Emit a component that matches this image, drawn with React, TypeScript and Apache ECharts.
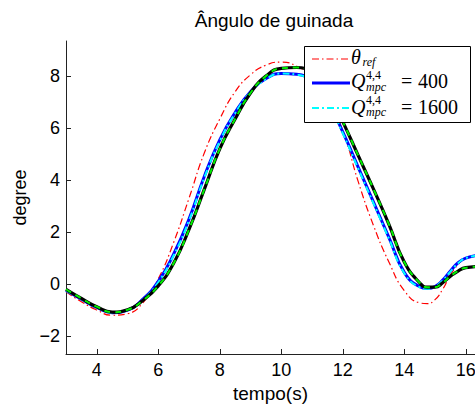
import React, { useEffect, useRef } from "react";
import * as echarts from "echarts";

// time axis (s)
const time = [
  3.0, 3.5, 4.0, 4.5, 5.0, 5.5, 6.0, 6.5, 7.0, 7.5, 8.0, 8.5, 9.0, 9.5,
  10.0, 10.5, 11.0, 11.5, 12.0, 12.5, 13.0, 13.5, 14.0, 14.5, 14.75, 15.0, 15.25, 15.5, 15.75, 16.0, 16.5,
];

// reference yaw angle (red dash-dot)
const thetaRef = [
  -0.3, -0.68, -1.0, -1.2, -1.14, -0.72, 0.2, 1.6, 3.3, 5.05, 6.35, 7.4, 8.05, 8.42,
  8.54, 8.38, 7.95, 7.15, 5.9, 3.95, 2.25, 0.85, -0.25, -0.72, -0.75, -0.6, -0.2, 0.35, 0.75, 1.0, 1.12,
];

// Q = 400 (blue solid)
const q400 = [
  -0.25, -0.58, -0.9, -1.1, -1.0, -0.58, 0.1, 1.15, 2.5, 4.15, 5.55, 6.6, 7.4, 7.9,
  8.1, 8.07, 7.8, 7.05, 5.85, 4.5, 3.15, 1.8, 0.45, -0.1, -0.17, -0.1, 0.15, 0.5, 0.82, 1.0, 1.12,
];

// Q = 1600 (cyan dash-dot)
const q1600 = [
  -0.25, -0.58, -0.9, -1.1, -1.0, -0.6, 0.07, 1.1, 2.45, 4.1, 5.5, 6.57, 7.38, 7.88,
  8.1, 8.06, 7.78, 7.02, 5.8, 4.45, 3.1, 1.75, 0.42, -0.12, -0.18, -0.1, 0.14, 0.48, 0.8, 1.0, 1.12,
];

// black solid (thick)
const qBlack = [
  -0.2, -0.55, -0.87, -1.08, -0.99, -0.63, -0.07, 0.8, 2.1, 3.65, 5.2, 6.35, 7.35, 8.0,
  8.3, 8.33, 8.12, 7.45, 6.25, 4.95, 3.65, 2.3, 0.85, 0.05, -0.12, -0.12, 0.05, 0.3, 0.5, 0.63, 0.68,
];

// green dashed (over the black one)
const qGreen = [
  -0.2, -0.55, -0.87, -1.08, -0.99, -0.63, -0.07, 0.8, 2.1, 3.65, 5.2, 6.35, 7.35, 8.0,
  8.3, 8.33, 8.12, 7.45, 6.25, 4.95, 3.65, 2.3, 0.85, 0.05, -0.12, -0.12, 0.05, 0.3, 0.5, 0.63, 0.68,
];

const xTicks = [4, 6, 8, 10, 12, 14, 16];
const yTicks = [-2, 0, 2, 4, 6, 8];

const SANS = "Liberation Sans, Arial, Helvetica, sans-serif";
const SERIF = "Liberation Serif, Times New Roman, serif";

const pairs = (ys: number[]) => time.map((t, i) => [t, ys[i]]);

export default function App() {
  const ref = useRef<HTMLDivElement>(null);

  useEffect(() => {
    document.body.style.margin = "0";
    if (!ref.current) return;
    const chart = echarts.init(ref.current, undefined, { renderer: "svg" });

    const labelStyle = { fontFamily: SANS, fontSize: 18, color: "#000" };

    const legendText = (text: string, x: number, y: number, size: number, italic: boolean) => ({
      type: "text",
      z: 101,
      x,
      y,
      style: {
        text,
        fill: "#000",
        font: `${italic ? "italic " : ""}${size}px ${SERIF}`,
        verticalAlign: "middle",
        align: "left",
      },
    });

    const option: any = {
      animation: false,
      backgroundColor: "#ffffff",
      title: {
        text: "Ângulo de guinada",
        left: 269,
        top: 6,
        textAlign: "center",
        textStyle: { fontFamily: SANS, fontSize: 19, fontWeight: "normal", color: "#000" },
      },
      grid: { left: 66, right: 0, top: 41, bottom: 51, containLabel: false, outerBoundsMode: "none" },
      xAxis: {
        type: "value",
        min: 3,
        max: 16.3,
        name: "tempo(s)",
        nameLocation: "middle",
        nameGap: 25,
        nameTextStyle: { fontFamily: SANS, fontSize: 19, color: "#000" },
        axisLine: { show: true, onZero: false, lineStyle: { color: "#222", width: 1 } },
        axisTick: { show: true, inside: true, length: 5, customValues: xTicks, lineStyle: { color: "#222" } },
        axisLabel: { customValues: xTicks, margin: 7, ...labelStyle },
        splitLine: { show: false },
      },
      yAxis: {
        type: "value",
        min: -2.69,
        max: 9.35,
        name: "degree",
        nameLocation: "middle",
        nameGap: 36,
        nameRotate: 90,
        nameTextStyle: { fontFamily: SANS, fontSize: 18, color: "#000" },
        axisLine: { show: true, onZero: false, lineStyle: { color: "#222", width: 1 } },
        axisTick: { show: true, inside: true, length: 5, customValues: yTicks, lineStyle: { color: "#222" } },
        axisLabel: {
          customValues: yTicks,
          margin: 6,
          ...labelStyle,
          formatter: (v: number) => (v < 0 ? "\u2212" + Math.abs(v) : String(v)),
        },
        splitLine: { show: false },
      },
      series: [
        {
          type: "line",
          name: "θref",
          data: pairs(thetaRef),
          showSymbol: false,
          smooth: true,
          z: 2,
          lineStyle: { color: "#ff0000", width: 1.2, type: [7, 3, 1.5, 3] },
        },
        {
          type: "line",
          name: "Q400",
          data: pairs(q400),
          showSymbol: false,
          smooth: true,
          z: 3,
          lineStyle: { color: "#0000ff", width: 3 },
        },
        {
          type: "line",
          name: "Q1600",
          data: pairs(q1600),
          showSymbol: false,
          smooth: true,
          z: 4,
          lineStyle: { color: "#00ffff", width: 2, type: [7, 3, 2, 3] },
        },
        {
          type: "line",
          name: "Qblack",
          data: pairs(qBlack),
          showSymbol: false,
          smooth: true,
          z: 5,
          lineStyle: { color: "#000000", width: 3.2 },
        },
        {
          type: "line",
          name: "Qgreen",
          data: pairs(qGreen),
          showSymbol: false,
          smooth: true,
          z: 6,
          lineStyle: { color: "#00ee00", width: 2, type: [6, 5] },
        },
      ],
      graphic: [
        {
          type: "rect",
          z: 100,
          shape: { x: 304.5, y: 46.5, width: 166, height: 76 },
          style: { fill: "#ffffff", stroke: "#000000", lineWidth: 1 },
        },
        {
          type: "line",
          z: 101,
          shape: { x1: 312, y1: 59, x2: 350, y2: 59 },
          style: { stroke: "#ff0000", lineWidth: 1.2, lineDash: [7, 3, 1.5, 3] },
        },
        {
          type: "line",
          z: 101,
          shape: { x1: 312, y1: 83, x2: 350, y2: 83 },
          style: { stroke: "#0000ff", lineWidth: 3 },
        },
        {
          type: "line",
          z: 101,
          shape: { x1: 312, y1: 108, x2: 350, y2: 108 },
          style: { stroke: "#00ffff", lineWidth: 2, lineDash: [7, 3, 2, 3] },
        },
        legendText("θ", 351, 57, 20, true),
        legendText("ref", 362.5, 62, 12, true),
        legendText("Q", 351, 80.5, 20, true),
        legendText("4,4", 366, 74.5, 12, false),
        legendText("mpc", 366, 87, 12, true),
        legendText("=", 401, 80.5, 20, false),
        legendText("400", 418, 80.5, 20, false),
        legendText("Q", 351, 106.5, 20, true),
        legendText("4,4", 366, 99.5, 12, false),
        legendText("mpc", 366, 112, 12, true),
        legendText("=", 401, 106.5, 20, false),
        legendText("1600", 418, 106.5, 20, false),
      ],
    };

    chart.setOption(option);
    return () => chart.dispose();
  }, []);

  return <div ref={ref} style={{ width: 475, height: 405 }} />;
}
